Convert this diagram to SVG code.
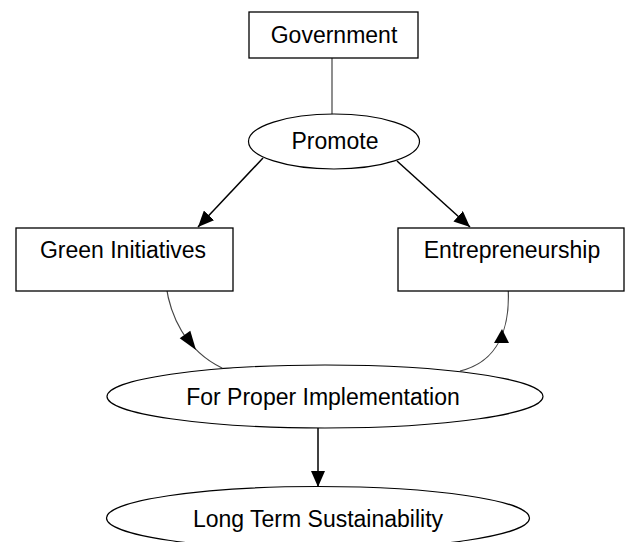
<svg xmlns="http://www.w3.org/2000/svg" width="627" height="542" viewBox="0 0 627 542">
  <style>
    .box { fill: #ffffff; stroke: #000000; stroke-width: 1.3; }
    .oval { fill: #ffffff; stroke: #000000; stroke-width: 1.2; }
    .label { font-family: "Liberation Sans", Arial, sans-serif; font-size: 23px; fill: #000000; text-anchor: middle; }
    .edge { fill: none; stroke: #000000; stroke-width: 1.5; }
    .soft { fill: none; stroke: #444444; stroke-width: 1.2; }
  </style>
  <defs>
    <marker id="arrowBig" viewBox="0 0 16 14" refX="16" refY="7" markerWidth="16" markerHeight="14" markerUnits="userSpaceOnUse" orient="auto">
      <path d="M0,0 L16,7 L0,14 z" fill="#000000"/>
    </marker>
  </defs>

  <g id="connectors">
    <line class="soft" x1="332" y1="58" x2="332" y2="114"/>
    <line class="edge" x1="263" y1="158" x2="198" y2="227" marker-end="url(#arrowBig)"/>
    <line class="edge" x1="397" y1="161" x2="470" y2="227" marker-end="url(#arrowBig)"/>
    <path class="soft" d="M166,285 C170,315 185,350 222,368 L240,369"/>
    <polygon points="196,350 179.7,338.3 190.3,330.8" fill="#000000"/>
    <path class="soft" d="M508,285 C511,330 497,362 460,371"/>
    <polygon points="502,329 494,343 509,343" fill="#000000"/>
    <line class="edge" x1="318" y1="428" x2="318" y2="487" marker-end="url(#arrowBig)"/>
  </g>

  <g id="government">
    <rect class="box" x="249" y="12" width="169" height="46"/>
    <text class="label" x="334" y="43">Government</text>
  </g>

  <g id="promote">
    <ellipse class="oval" cx="334" cy="141.5" rx="85.5" ry="27.5"/>
    <text class="label" x="335" y="149">Promote</text>
  </g>

  <g id="green-initiatives">
    <rect class="box" x="16" y="228" width="217" height="63"/>
    <text class="label" x="123" y="258">Green Initiatives</text>
  </g>

  <g id="entrepreneurship">
    <rect class="box" x="398" y="228" width="226" height="63"/>
    <text class="label" x="512" y="258">Entrepreneurship</text>
  </g>

  <g id="implementation">
    <ellipse class="oval" cx="325" cy="396.5" rx="218" ry="31.5"/>
    <text class="label" x="323" y="405">For Proper Implementation</text>
  </g>

  <g id="sustainability">
    <ellipse class="oval" cx="318" cy="518" rx="211.5" ry="31.5"/>
    <text class="label" x="318" y="527">Long Term Sustainability</text>
  </g>
</svg>
